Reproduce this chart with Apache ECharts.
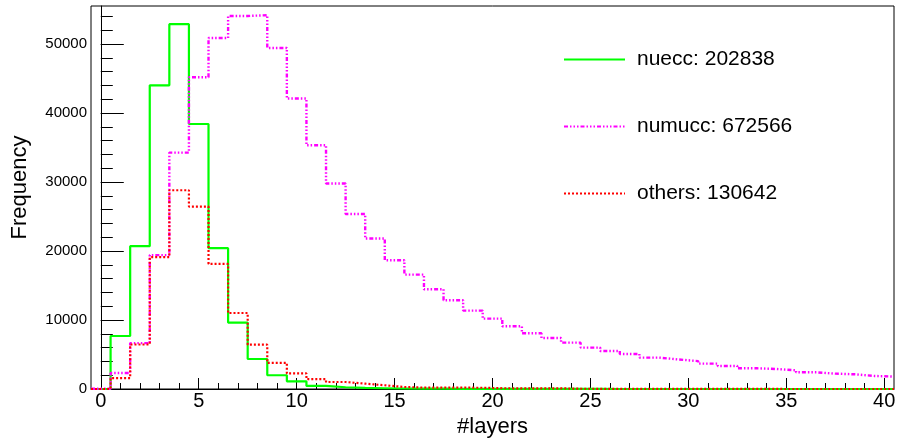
<!DOCTYPE html>
<html><head><meta charset="utf-8">
<script src="https://cdn.jsdelivr.net/npm/echarts@6/dist/echarts.min.js"></script>
<style>html,body{margin:0;padding:0;background:#fff}#c{width:897px;height:439px}</style>
</head><body><div id="c"></div>
<script>
// bin centres (#layers)
const binCenters = [0,1,2,3,4,5,6,7,8,9,10,11,12,13,14,15,16,17,18,19,20,21,22,23,24,25,26,27,28,29,30,31,32,33,34,35,36,37,38,39,40];
const nuecc = [0,7680,20700,44000,52860,38400,20400,9620,4350,1990,1110,440,250,150,110,70,50,40,30,20,15,10,8,6,5,4,3,2,2,1,1,1,1,0,0,0,0,0,0,0,0];
const numucc = [30,2320,6650,19400,34260,45170,50870,54060,54160,49420,42090,35320,29770,25360,21800,18650,16580,14450,12855,11360,10200,9090,8070,7390,6720,6000,5500,5080,4550,4280,4040,3680,3340,3000,2900,2710,2420,2230,2130,1890,1800];
const others = [0,1580,6450,19100,28800,26430,18120,11010,6430,3800,2260,1420,1015,780,540,290,200,200,190,180,110,100,100,90,40,30,25,20,15,12,10,8,6,5,4,3,3,2,2,1,1];
const seriesNames = ['nuecc: 202838','numucc: 672566','others: 130642'];
const xTickLabels = [0,5,10,15,20,25,30,35,40];
const yTickLabels = [0,10000,20000,30000,40000,50000];
const yMinorTicks = [];
for (let v = 0; v <= 54000; v += 2000) yMinorTicks.push(v);

const FONT = "'Liberation Sans', Arial, Helvetica, sans-serif";

function steps(vals) {
  const pts = vals.map((v, i) => [binCenters[i] - 0.5, v]);
  pts.push([binCenters[binCenters.length - 1] + 0.5, vals[vals.length - 1]]);
  return pts;
}

const chart = echarts.init(document.getElementById('c'), null, {renderer: 'canvas'});
chart.setOption({
  animation: false,
  backgroundColor: '#fff',
  textStyle: {fontFamily: FONT},
  grid: {left: 91, right: 3, top: 6, bottom: 50, show: true, borderColor: '#000', borderWidth: 1,
    backgroundColor: 'transparent', containLabel: false, outerBoundsMode: 'none'},
  legend: {
    orient: 'vertical', left: 563, top: 49, padding: 0,
    itemWidth: 61, itemHeight: 20, itemGap: 46,
    selectedMode: false,
    itemStyle: {color: 'transparent', borderColor: 'transparent', borderWidth: 0, opacity: 0},
    textStyle: {fontSize: 21, color: '#000', fontFamily: FONT, padding: [0,0,0,7]},
    data: seriesNames
  },
  xAxis: [{
    type: 'value', min: -0.5, max: 40.5, position: 'bottom',
    axisLine: {show: true, lineStyle: {color: '#000', width: 1}},
    axisTick: {show: true, inside: true, length: 11, customValues: xTickLabels, lineStyle: {color: '#000'}},
    axisLabel: {customValues: xTickLabels, fontSize: 20, color: '#000', margin: 2, fontFamily: FONT},
    splitLine: {show: false},
    name: '#layers', nameLocation: 'middle', nameGap: 20,
    nameTextStyle: {fontSize: 22, color: '#000', fontFamily: FONT}
  }, {
    type: 'value', min: -0.5, max: 40.5, position: 'bottom',
    axisLine: {show: false},
    axisTick: {show: true, inside: true, length: 6, customValues: binCenters, lineStyle: {color: '#000'}},
    axisLabel: {show: false},
    splitLine: {show: false}
  }],
  yAxis: [{
    type: 'value', min: 0, max: 55500, position: 'left',
    axisLine: {show: true, lineStyle: {color: '#000', width: 1}},
    axisTick: {show: true, inside: true, length: 23, customValues: yTickLabels, lineStyle: {color: '#000'}},
    axisLabel: {customValues: yTickLabels, fontSize: 15, color: '#000', margin: 4, fontFamily: FONT,
      formatter: v => String(v)},
    splitLine: {show: false},
    name: 'Frequency', nameLocation: 'middle', nameGap: 60,
    nameTextStyle: {fontSize: 22, color: '#000', fontFamily: FONT, padding: [0,0,0,20]}
  }, {
    type: 'value', min: 0, max: 55500, position: 'left',
    axisLine: {show: false},
    axisTick: {show: true, inside: true, length: 12, customValues: yMinorTicks, lineStyle: {color: '#000'}},
    axisLabel: {show: false},
    splitLine: {show: false}
  }],
  series: [{
    name: seriesNames[0], type: 'line', step: 'end', symbol: 'none',
    xAxisIndex: 0, yAxisIndex: 0,
    lineStyle: {color: '#00ff00', width: 2.2, type: 'solid'},
    itemStyle: {color: '#00ff00'},
    data: steps(nuecc)
  }, {
    name: seriesNames[1], type: 'line', step: 'end', symbol: 'none',
    xAxisIndex: 0, yAxisIndex: 0,
    lineStyle: {color: '#ff00ff', width: 2.4, type: [4,2,1.5,2,1.5,2,1.5,2]},
    itemStyle: {color: '#ff00ff'},
    data: steps(numucc)
  }, {
    name: seriesNames[2], type: 'line', step: 'end', symbol: 'none',
    xAxisIndex: 0, yAxisIndex: 0,
    lineStyle: {color: '#ff0000', width: 2.2, type: [2,2]},
    itemStyle: {color: '#ff0000'},
    data: steps(others)
  }]
});
</script>
</body></html>
